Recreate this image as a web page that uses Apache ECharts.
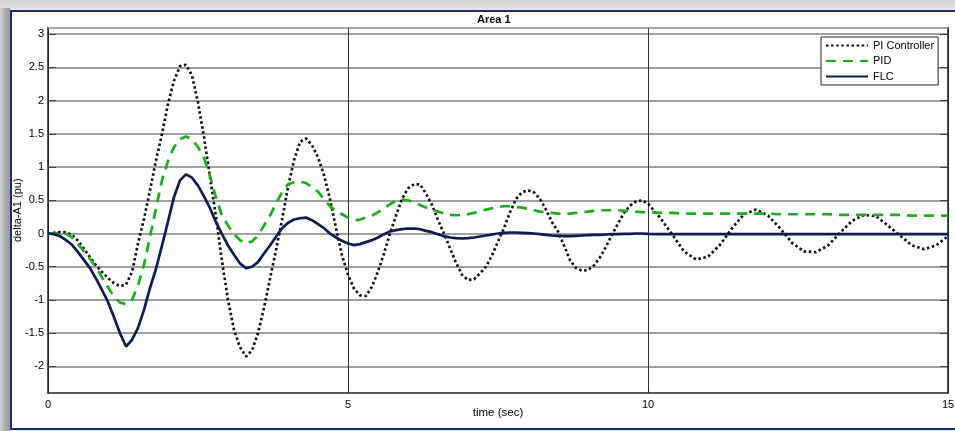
<!DOCTYPE html>
<html>
<head>
<meta charset="utf-8">
<script src="https://cdn.jsdelivr.net/npm/echarts@6/dist/echarts.min.js"></script>
<style>
  html, body { margin: 0; padding: 0; }
  body { width: 955px; height: 431px; position: relative; overflow: hidden;
         background: linear-gradient(to bottom, #d4d4d4 0px, #e6e6e6 10px, #e6e6e6 100%); }
  #shade { position: absolute; left: 0; top: 8px; width: 10px; height: 423px;
           background: linear-gradient(to right, #d0d0d0 0px, #a8a8a8 6px, #9a9a9a 10px); }
  #frame { position: absolute; left: 10px; top: 10px; width: 960px; height: 416px;
           border: 2px solid #1c2f6b; background: #ffffff; }
  #chart { position: absolute; left: 0; top: 0; width: 955px; height: 431px; z-index: 2; }
</style>
</head>
<body>
<div id="shade"></div>
<div id="frame"></div>
<div id="chart"></div>
<script>
// ---- data ----
const time = [
  0,0.1,0.2,0.3,0.4,0.5,0.6,0.7,0.8,0.9,
  1.0,1.1,1.2,1.3,1.4,1.5,1.6,1.7,1.8,1.9,
  2.0,2.1,2.2,2.3,2.4,2.5,2.6,2.7,2.8,2.9,
  3.0,3.1,3.2,3.3,3.4,3.5,3.6,3.7,3.8,3.9,
  4.0,4.1,4.2,4.3,4.4,4.5,4.6,4.7,4.8,4.9,
  5.0,5.1,5.2,5.3,5.4,5.5,5.6,5.7,5.8,5.9,
  6.0,6.1,6.2,6.3,6.4,6.5,6.6,6.7,6.8,6.9,
  7.0,7.1,7.2,7.3,7.4,7.5,7.6,7.7,7.8,7.9,
  8.0,8.1,8.2,8.3,8.4,8.5,8.6,8.7,8.8,8.9,
  9.0,9.1,9.2,9.3,9.4,9.5,9.6,9.7,9.8,9.9,
  10.0,
  10.2,10.4,10.6,10.8,11.0,
  11.2,11.4,11.6,11.8,12.0,
  12.2,12.4,12.6,12.8,13.0,
  13.2,13.4,13.6,13.8,14.0,
  14.2,14.4,14.6,14.8,15.0
];

const piController = [
  0,0.01,0.02,0.02,-0.02,-0.11,-0.23,-0.36,-0.48,-0.58,
  -0.67,-0.75,-0.79,-0.77,-0.58,-0.15,0.22,0.65,1.1,1.5,
  1.95,2.3,2.52,2.54,2.38,1.97,1.45,0.85,0.25,-0.42,
  -1.0,-1.45,-1.71,-1.85,-1.76,-1.5,-1.12,-0.68,-0.25,0.2,
  0.7,1.1,1.38,1.43,1.33,1.15,0.88,0.52,0.08,-0.33,
  -0.62,-0.83,-0.93,-0.94,-0.8,-0.57,-0.3,0.0,0.27,0.52,
  0.68,0.74,0.74,0.6,0.43,0.2,0.0,-0.22,-0.44,-0.62,
  -0.7,-0.69,-0.6,-0.5,-0.33,-0.12,0.08,0.32,0.52,0.62,
  0.65,0.62,0.52,0.36,0.17,0.03,-0.18,-0.4,-0.52,-0.56,
  -0.55,-0.48,-0.36,-0.2,-0.02,0.15,0.31,0.42,0.48,0.5,
  0.45,
  0.24,-0.01,-0.27,-0.39,-0.35,
  -0.17,0.08,0.29,0.36,0.27,
  0.08,-0.14,-0.27,-0.28,-0.18,
  0.01,0.19,0.28,0.26,0.12,
  -0.03,-0.18,-0.235,-0.18,-0.04
];

const pid = [
  0,0,0.01,0,-0.06,-0.16,-0.27,-0.38,-0.51,-0.66,
  -0.81,-0.95,-1.04,-1.06,-1.0,-0.78,-0.47,-0.05,0.38,0.8,
  1.09,1.3,1.42,1.46,1.42,1.3,1.14,0.86,0.54,0.27,
  0.12,-0.01,-0.1,-0.15,-0.12,-0.03,0.12,0.27,0.45,0.62,
  0.74,0.77,0.78,0.76,0.7,0.63,0.52,0.41,0.34,0.29,
  0.24,0.2,0.21,0.24,0.27,0.32,0.38,0.44,0.49,0.51,
  0.5,0.47,0.43,0.39,0.36,0.33,0.3,0.28,0.275,0.28,
  0.29,0.31,0.33,0.36,0.38,0.4,0.41,0.41,0.4,0.39,
  0.37,0.35,0.33,0.32,0.31,0.3,0.3,0.3,0.31,0.32,
  0.33,0.34,0.35,0.35,0.35,0.35,0.34,0.34,0.33,0.32,
  0.32,
  0.31,0.31,0.3,0.3,0.3,
  0.3,0.3,0.3,0.3,0.3,
  0.29,0.29,0.29,0.29,0.29,
  0.28,0.28,0.28,0.28,0.28,
  0.28,0.27,0.27,0.27,0.27
];

const flc = [
  0,-0.01,-0.04,-0.1,-0.17,-0.28,-0.4,-0.52,-0.68,-0.85,
  -1.03,-1.26,-1.5,-1.7,-1.6,-1.42,-1.15,-0.82,-0.53,-0.18,
  0.18,0.55,0.8,0.89,0.84,0.72,0.56,0.38,0.17,-0.01,
  -0.18,-0.32,-0.45,-0.52,-0.5,-0.43,-0.3,-0.18,-0.05,0.08,
  0.16,0.21,0.23,0.24,0.2,0.14,0.08,0.0,-0.06,-0.11,
  -0.15,-0.175,-0.16,-0.13,-0.1,-0.06,-0.01,0.03,0.05,0.065,
  0.075,0.075,0.065,0.04,0.02,-0.01,-0.04,-0.06,-0.07,-0.075,
  -0.07,-0.06,-0.045,-0.03,-0.015,0,0.01,0.015,0.015,0.01,
  0.005,0,-0.01,-0.02,-0.03,-0.035,-0.04,-0.04,-0.035,-0.03,
  -0.025,-0.02,-0.02,-0.015,-0.01,-0.01,-0.005,-0.005,0,0,
  -0.005,
  -0.01,-0.01,-0.01,-0.01,-0.01,
  -0.01,-0.01,-0.01,-0.01,-0.01,
  -0.01,-0.01,-0.01,-0.01,-0.01,
  -0.01,-0.01,-0.01,-0.01,-0.01,
  -0.01,-0.01,-0.01,-0.01,-0.01
];

const seriesNames = ['PI Controller', 'PID', 'FLC'];
const yTicks = [-2, -1.5, -1, -0.5, 0, 0.5, 1, 1.5, 2, 2.5, 3];
const xMin = 0, xMax = 15, xStep = 5;
const yMin = -2.4, yMax = 3.1;

// ---- chart ----
const FONT = '"Liberation Sans", Arial, sans-serif';
const chart = echarts.init(document.getElementById('chart'), null, { renderer: 'canvas' });

function pairs(vals) { return time.map((t, i) => [t, vals[i]]); }

const option = {
  backgroundColor: 'transparent',
  animation: false,
  title: {
    text: 'Area 1',
    left: 477, top: 14,
    padding: 0,
    textStyle: { fontFamily: FONT, fontSize: 11, fontWeight: 'bold', color: '#000' }
  },
  grid: { left: 48, right: 7, top: 27.5, bottom: 38, containLabel: false, outerBoundsMode: 'none' },
  legend: {
    orient: 'vertical',
    left: 821, top: 37,
    padding: [3, 4, 3, 4],
    itemWidth: 42, itemHeight: 10, itemGap: 4.5,
    borderColor: '#222', borderWidth: 1,
    backgroundColor: '#fff',
    itemStyle: { opacity: 0 },
    textStyle: { fontFamily: FONT, fontSize: 11, color: '#000' },
    data: seriesNames
  },
  xAxis: [{
    type: 'value', min: xMin, max: xMax, interval: xStep,
    name: 'time (sec)', nameLocation: 'middle', nameGap: 14, nameMoveOverlap: false,
    nameTextStyle: { fontFamily: FONT, fontSize: 11.5, color: '#000' },
    axisLine: { show: true, onZero: false, lineStyle: { color: '#222', width: 1.5 } },
    axisTick: { show: true, inside: true, length: 6, lineStyle: { color: '#222' } },
    axisLabel: { fontFamily: FONT, fontSize: 11, color: '#000', margin: 6 },
    splitLine: { show: true, lineStyle: { color: '#333', width: 1 } }
  }, {
    type: 'value', min: xMin, max: xMax, interval: xStep, position: 'top',
    axisLine: { show: true, onZero: false, lineStyle: { color: '#888', width: 1.5 } },
    axisTick: { show: false }, axisLabel: { show: false }, splitLine: { show: false }
  }],
  yAxis: [{
    type: 'value', min: yMin, max: yMax,
    name: 'delta-A1 (pu)', nameLocation: 'middle', nameGap: 25, nameRotate: 90, nameMoveOverlap: false,
    nameTextStyle: { fontFamily: FONT, fontSize: 11, color: '#000' },
    axisLine: { show: true, onZero: false, lineStyle: { color: '#222', width: 1.5 } },
    axisTick: { show: true, inside: true, length: 8, customValues: yTicks, lineStyle: { color: '#444' } },
    axisLabel: { fontFamily: FONT, fontSize: 11, color: '#000', margin: 4, customValues: yTicks,
                 formatter: v => String(v) },
    splitLine: { show: true, lineStyle: { color: '#a0a0a0', width: 2 } }
  }, {
    type: 'value', min: yMin, max: yMax, position: 'right',
    axisLine: { show: true, onZero: false, lineStyle: { color: '#222', width: 1.5 } },
    axisTick: { show: true, inside: true, length: 8, customValues: yTicks, lineStyle: { color: '#444' } },
    axisLabel: { show: false }, splitLine: { show: false }
  }],
  series: [{
    name: seriesNames[0], type: 'line', data: pairs(piController),
    symbol: 'none', smooth: false, z: 3,
    lineStyle: { color: '#111', width: 2.7, type: [2.5, 2.6], cap: 'butt' },
    itemStyle: { color: '#111' }
  }, {
    name: seriesNames[1], type: 'line', data: pairs(pid),
    symbol: 'none', smooth: false, z: 4,
    lineStyle: { color: '#1aae1a', width: 2.7, type: [10, 7], cap: 'butt' },
    itemStyle: { color: '#1aae1a' }
  }, {
    name: seriesNames[2], type: 'line', data: pairs(flc),
    symbol: 'none', smooth: false, z: 5,
    lineStyle: { color: '#0c1c52', width: 2.7, type: 'solid' },
    itemStyle: { color: '#0c1c52' }
  }]
};
chart.setOption(option);
</script>
</body>
</html>
